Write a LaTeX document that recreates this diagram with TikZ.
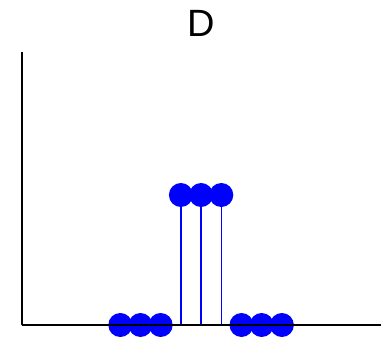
\documentclass[tikz,border=0pt]{standalone}
\usepackage{fontspec}
\setmainfont{Liberation Sans}
\usetikzlibrary{positioning}

\begin{document}
\begin{tikzpicture}[x=1pt,y=1pt]
        \useasboundingbox (0,0) rectangle (389,341);
        \node (title) at (201.5,318) {\fontsize{38}{40}\selectfont D};
        \foreach \k/\v in {0/0,1/0,2/0,3/1,4/1,5/1,6/0,7/0,8/0}{
            \pgfmathsetmacro{\xx}{120.3+20.2*\k}
            \pgfmathsetmacro{\yy}{16+130*\v}
            \draw[blue,line width=1.4pt] (\xx,16) -- (\xx,\yy);
            \fill[blue] (\xx,\yy) circle (12);
        }
        \draw[line width=2.4pt] (22,16) -- (381,16);
        \draw[line width=1.6pt] (22,16) -- (22,289);
    \end{tikzpicture}
\end{document}
